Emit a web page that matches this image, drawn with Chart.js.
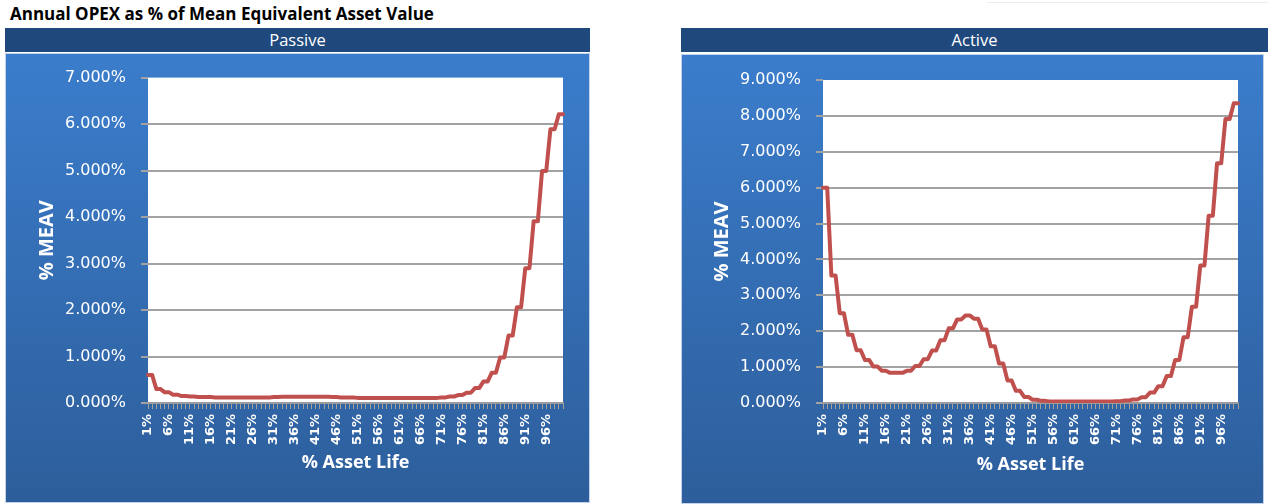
<!DOCTYPE html>
<html>
<head>
<meta charset="utf-8">
<script src="https://cdn.jsdelivr.net/npm/chart.js@4.4.0/dist/chart.umd.min.js"></script>
<style>
  html, body { margin: 0; padding: 0; background: #fff; width: 1268px; height: 504px; overflow: hidden; }
  .title { position: absolute; left: 10px; top: 2px; font: bold 17px "Open Sans", sans-serif; color: #000; white-space: nowrap; }
  .hdr { position: absolute; top: 28px; height: 24px; line-height: 26px; background: #1F497D; color: #fff;
         font: 16.5px "Open Sans", sans-serif; text-align: center; }
  .panel { position: absolute; height: 450px; background: linear-gradient(#3B7DCC, #2D5E9B);
           box-shadow: inset 0 0 0 1px #c3d3ea; }
  .panel canvas { position: absolute; left: 0; top: 0; }
  .rule { position: absolute; left: 987px; top: 2px; width: 281px; height: 1px; background: #ececec; }
</style>
</head>
<body>
<div class="rule"></div>
<div class="title">Annual OPEX as % of Mean Equivalent Asset Value</div>

<div class="hdr" style="left:5px;width:585px;">Passive</div>
<div class="panel" style="left:5px;top:53px;width:585px;">
  <canvas id="passiveChart" width="585" height="450"></canvas>
</div>

<div class="hdr" style="left:681px;width:587px;">Active</div>
<div class="panel" style="left:681px;top:54px;width:583px;">
  <canvas id="activeChart" width="583" height="450"></canvas>
</div>

<script>
// % of asset life (categories)
const lifeLabels = [
  '1%','2%','3%','4%','5%','6%','7%','8%','9%','10%',
  '11%','12%','13%','14%','15%','16%','17%','18%','19%','20%',
  '21%','22%','23%','24%','25%','26%','27%','28%','29%','30%',
  '31%','32%','33%','34%','35%','36%','37%','38%','39%','40%',
  '41%','42%','43%','44%','45%','46%','47%','48%','49%','50%',
  '51%','52%','53%','54%','55%','56%','57%','58%','59%','60%',
  '61%','62%','63%','64%','65%','66%','67%','68%','69%','70%',
  '71%','72%','73%','74%','75%','76%','77%','78%','79%','80%',
  '81%','82%','83%','84%','85%','86%','87%','88%','89%','90%',
  '91%','92%','93%','94%','95%','96%','97%','98%','99%','100%'
];

// Annual OPEX as % of MEAV – passive assets
const passiveValues = [
  0.60, 0.60, 0.30, 0.30, 0.23, 0.23, 0.18, 0.18, 0.15, 0.15,
  0.14, 0.14, 0.13, 0.13, 0.13, 0.13, 0.12, 0.12, 0.12, 0.12,
  0.12, 0.12, 0.12, 0.12, 0.12, 0.12, 0.12, 0.12, 0.12, 0.12,
  0.13, 0.13, 0.135, 0.135, 0.135, 0.135, 0.135, 0.135, 0.135, 0.135,
  0.135, 0.135, 0.135, 0.135, 0.13, 0.13, 0.12, 0.12, 0.12, 0.12,
  0.11, 0.11, 0.11, 0.11, 0.11, 0.11, 0.11, 0.11, 0.11, 0.11,
  0.11, 0.11, 0.11, 0.11, 0.11, 0.11, 0.11, 0.11, 0.11, 0.11,
  0.12, 0.12, 0.14, 0.14, 0.17, 0.17, 0.22, 0.22, 0.32, 0.32,
  0.46, 0.46, 0.65, 0.65, 0.98, 0.98, 1.45, 1.45, 2.06, 2.06,
  2.90, 2.90, 3.91, 3.91, 4.99, 4.99, 5.89, 5.89, 6.21, 6.21
];

// Annual OPEX as % of MEAV – active assets
const activeValues = [
  6.00, 6.00, 3.55, 3.55, 2.50, 2.50, 1.90, 1.90, 1.47, 1.47,
  1.20, 1.20, 1.02, 1.02, 0.90, 0.90, 0.84, 0.84, 0.84, 0.84,
  0.90, 0.90, 1.03, 1.03, 1.22, 1.22, 1.46, 1.46, 1.75, 1.75,
  2.08, 2.08, 2.33, 2.33, 2.44, 2.44, 2.35, 2.35, 2.05, 2.05,
  1.58, 1.58, 1.10, 1.10, 0.63, 0.63, 0.34, 0.34, 0.17, 0.17,
  0.09, 0.09, 0.06, 0.06, 0.04, 0.04, 0.04, 0.04, 0.04, 0.04,
  0.04, 0.04, 0.04, 0.04, 0.04, 0.04, 0.04, 0.04, 0.04, 0.04,
  0.05, 0.05, 0.07, 0.07, 0.10, 0.10, 0.16, 0.16, 0.29, 0.29,
  0.47, 0.47, 0.75, 0.75, 1.20, 1.20, 1.83, 1.83, 2.68, 2.68,
  3.83, 3.83, 5.22, 5.22, 6.68, 6.68, 7.91, 7.91, 8.35, 8.35
];

// y-axis tick labels
const passiveTicks = ['0.000%','1.000%','2.000%','3.000%','4.000%','5.000%','6.000%','7.000%'];
const activeTicks  = ['0.000%','1.000%','2.000%','3.000%','4.000%','5.000%','6.000%','7.000%','8.000%','9.000%'];

const LABEL_EVERY = 5;

// white plot area behind the line
const plotBackground = {
  id: 'plotBackground',
  beforeDraw(chart) {
    const { ctx, chartArea: a } = chart;
    ctx.save();
    ctx.fillStyle = '#ffffff';
    ctx.fillRect(a.left, a.top, a.right - a.left, a.bottom - a.top);
    ctx.restore();
  }
};

function buildChart(canvasId, values, tickLabels, box) {
  const yMax = tickLabels.length - 1;
  return new Chart(document.getElementById(canvasId), {
    type: 'line',
    data: {
      labels: lifeLabels,
      datasets: [{
        data: values,
        borderColor: '#C0504D',
        borderWidth: 4,
        pointRadius: 0,
        tension: 0,
        borderJoinStyle: 'round',
        borderCapStyle: 'round'
      }]
    },
    options: {
      responsive: false,
      animation: false,
      layout: { padding: { left: 0, right: box.padRight, top: box.padTop, bottom: 0 } },
      plugins: { legend: { display: false }, tooltip: { enabled: false } },
      scales: {
        x: {
          offset: false,
          afterFit(scale) { scale.height = box.xHeight; },
          border: { display: true, color: '#9a9a9a', width: 1.5 },
          grid: { drawOnChartArea: false, drawTicks: true, tickLength: 6, color: '#a8a294', lineWidth: 1 },
          ticks: {
            autoSkip: false,
            maxRotation: 90,
            minRotation: 90,
            padding: 5,
            color: '#ffffff',
            font: { family: 'DejaVu Sans', size: 13, weight: 'bold' },
            callback: (v, i) => (i % LABEL_EVERY === 0 ? lifeLabels[i] : '')
          },
          title: {
            display: true,
            text: '% Asset Life',
            color: '#ffffff',
            font: { family: 'Open Sans', size: 18, weight: 'bold' },
            padding: { top: 0, bottom: box.xTitlePad }
          }
        },
        y: {
          min: 0,
          max: yMax,
          afterFit(scale) { scale.width = box.yWidth; },
          border: { display: false },
          grid: {
            drawTicks: true,
            tickLength: 7,
            lineWidth: 2,
            color: ctx => (ctx.tick && ctx.tick.value === yMax ? 'rgba(0,0,0,0)' : '#a2a2a2'),
            tickColor: '#a2a2a2'
          },
          ticks: {
            stepSize: 1,
            padding: 15,
            color: '#ffffff',
            font: { family: 'DejaVu Sans', size: 16 },
            callback: (v, i) => tickLabels[i]
          },
          title: {
            display: true,
            text: '% MEAV',
            color: '#ffffff',
            font: { family: 'Open Sans', size: 20, weight: 'bold' },
            padding: { top: box.yTitlePad, bottom: 0 }
          }
        }
      }
    },
    plugins: [plotBackground]
  });
}

buildChart('passiveChart', passiveValues, passiveTicks,
  { padTop: 24, padRight: 27, yWidth: 143, xHeight: 100, yTitlePad: 30, xTitlePad: 29 });
buildChart('activeChart', activeValues, activeTicks,
  { padTop: 26, padRight: 26, yWidth: 142, xHeight: 101, yTitlePad: 29, xTitlePad: 28 });
</script>
</body>
</html>
